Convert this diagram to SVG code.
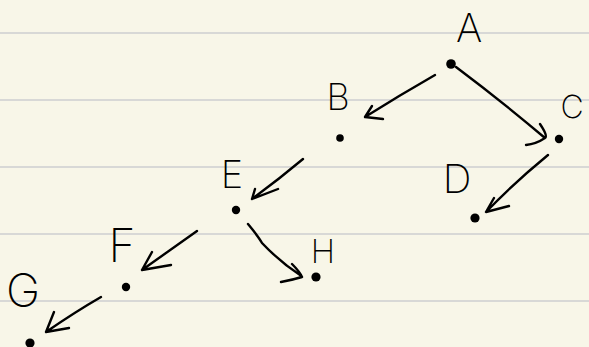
<svg xmlns="http://www.w3.org/2000/svg" width="589" height="347" viewBox="0 0 589 347">
<style>
.paper{fill:#f8f6e8}
.rule{stroke:#d8d8d6;stroke-width:2}
.edge{fill:none;stroke:#000;stroke-width:2.4;stroke-linecap:round;stroke-linejoin:round}
.dot{fill:#000}
.lbl{font-family:Inter,"Liberation Sans",sans-serif;font-weight:250;fill:#000;text-anchor:middle}
</style>
<rect class="paper" x="0" y="0" width="589" height="347"/>
<g id="rules">
<line class="rule" x1="0" y1="33" x2="589" y2="33"/>
<line class="rule" x1="0" y1="100" x2="589" y2="100"/>
<line class="rule" x1="0" y1="167" x2="589" y2="167"/>
<line class="rule" x1="0" y1="234" x2="589" y2="234"/>
<line class="rule" x1="0" y1="301" x2="589" y2="301"/>
</g>
<g id="connectors">
<path class="edge" d="M435 75 Q400 95 365 117 M372 106 L365 117 L383 119"/>
<path class="edge" d="M456 67 Q500 100 545 138 M540 124 Q548 136 545 138 Q536 144 526 145"/>
<path class="edge" d="M548 155 Q515 182 486 212 M494 198 L486 212 L509 206"/>
<path class="edge" d="M303 159 Q278 180 252 199 M255 189 L252 199 L278 189"/>
<path class="edge" d="M197 231 Q170 250 142 270 M152 252 L142 270 L171 265"/>
<path class="edge" d="M248 224 Q258 236 262 243 Q280 262 300 275 M292 264 Q300 272 302 277 Q292 280 281 282"/>
<path class="edge" d="M101 297 Q75 312 46 332 M54 312 L46 332 L69 328"/>
</g>
<g id="A"><circle class="dot" cx="451" cy="64" r="4.8"/><text class="lbl" x="469" y="42" font-size="40">A</text></g>
<g id="B"><circle class="dot" cx="340" cy="138" r="3.8"/><text class="lbl" x="338" y="110" font-size="36">B</text></g>
<g id="C"><circle class="dot" cx="559" cy="139" r="4.2"/><text class="lbl" x="572" y="118" font-size="32">C</text></g>
<g id="D"><circle class="dot" cx="475" cy="218" r="4.6"/><text class="lbl" x="457" y="193" font-size="40">D</text></g>
<g id="E"><circle class="dot" cx="236" cy="210" r="4.2"/><text class="lbl" x="232" y="188" font-size="38">E</text></g>
<g id="F"><circle class="dot" cx="126" cy="287" r="4.2"/><text class="lbl" x="122" y="262" font-size="46">F</text></g>
<g id="H"><circle class="dot" cx="316" cy="277" r="4.6"/><text class="lbl" x="323" y="263" font-size="33">H</text></g>
<g id="G"><circle class="dot" cx="30" cy="343" r="4.6"/><text class="lbl" x="23" y="307" font-size="46">G</text></g>
</svg>
